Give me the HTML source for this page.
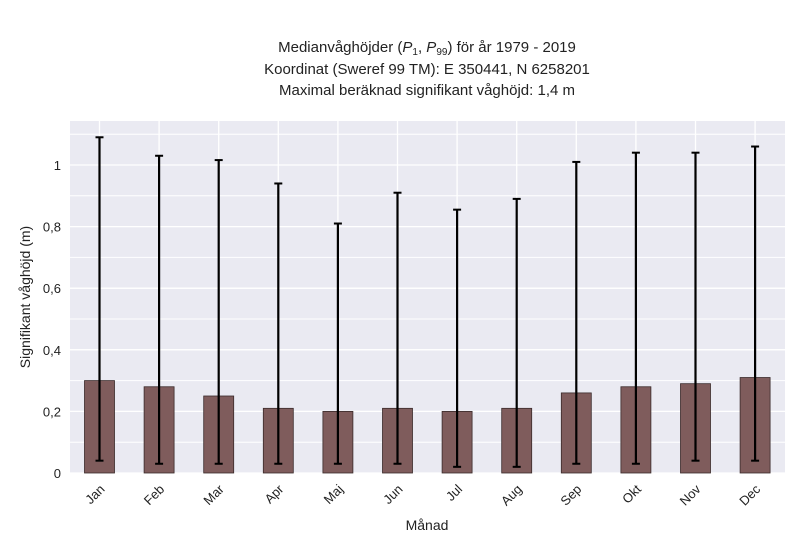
<!DOCTYPE html>
<html><head><meta charset="utf-8"><style>
body{margin:0;background:#fff;font-family:"Liberation Sans",sans-serif}
</style></head><body>
<svg width="800" height="550" xmlns="http://www.w3.org/2000/svg" font-family="Liberation Sans, sans-serif">
<g font-size="15" fill="#222" text-anchor="middle">
<text x="427" y="52">Medianvåghöjder (<tspan font-style="italic">P</tspan><tspan font-size="10" dy="3">1</tspan><tspan dy="-3">, </tspan><tspan font-style="italic">P</tspan><tspan font-size="10" dy="3">99</tspan><tspan dy="-3">) för år 1979 - 2019</tspan></text>
<text x="427" y="74">Koordinat (Sweref 99 TM): E 350441, N 6258201</text>
<text x="427" y="95">Maximal beräknad signifikant våghöjd: 1,4 m</text>
</g>
<rect x="70" y="121" width="715" height="352" fill="#eaeaf2"/>
<g id="grid"></g>
<g id="bars"></g>
<g id="axes" font-size="13" fill="#222"></g>
<text x="427" y="530" font-size="14" text-anchor="middle" fill="#222">Månad</text>
<text transform="translate(30,297) rotate(-90)" font-size="14" text-anchor="middle" fill="#222">Signifikant våghöjd (m)</text>
</svg>
<script>
const months=["Jan","Feb","Mar","Apr","Maj","Jun","Jul","Aug","Sep","Okt","Nov","Dec"];
const medians=[0.30,0.28,0.25,0.21,0.20,0.21,0.20,0.21,0.26,0.28,0.29,0.31];
const p99=[1.09,1.03,1.016,0.94,0.81,0.91,0.855,0.89,1.01,1.04,1.04,1.06];
const p1=[0.04,0.03,0.03,0.03,0.03,0.03,0.02,0.02,0.03,0.03,0.04,0.04];
const yTicks=[0,0.2,0.4,0.6,0.8,1];
const yTickLabels=["0","0,2","0,4","0,6","0,8","1"];
const NS="http://www.w3.org/2000/svg";
const y=v=>473-v*308;
const x=i=>99.5+i*59.6;
function mk(t,a,p){const e=document.createElementNS(NS,t);for(const k in a)e.setAttribute(k,a[k]);p.appendChild(e);return e;}
const grid=document.getElementById('grid'),bars=document.getElementById('bars'),axes=document.getElementById('axes');
for(let v=0.1;v<1.15;v+=0.1){const l=mk('line',{x1:70,x2:785,y1:y(v),y2:y(v),stroke:'#fff','stroke-width':1},grid);}
yTicks.forEach((v,i)=>{const l=mk('line',{x1:70,x2:785,y1:y(v),y2:y(v),stroke:'#fff','stroke-width':1.3},grid);
const t=mk('text',{x:61,y:y(v)+5,'text-anchor':'end'},axes);t.textContent=yTickLabels[i];});
months.forEach((m,i)=>{const cx=x(i);
const g=mk('line',{x1:cx,x2:cx,y1:121,y2:473,stroke:'#fff','stroke-width':1.3},grid);
const r=mk('rect',{x:cx-15,y:y(medians[i]),width:30,height:y(0)-y(medians[i]),fill:'#7f5c5c',stroke:'#3a2a2a','stroke-width':0.8},bars);
const e=mk('line',{x1:cx,x2:cx,y1:y(p99[i]),y2:y(p1[i]),stroke:'#000','stroke-width':2.2},bars);
[p99[i],p1[i]].forEach(v=>{const c=mk('line',{x1:cx-4,x2:cx+4,y1:y(v),y2:y(v),stroke:'#000','stroke-width':2},bars);});
const t=mk('text',{x:cx+6,y:490,'text-anchor':'end',transform:`rotate(-45 ${cx+6} 490)`},axes);t.textContent=m;});
</script>
</body></html>
